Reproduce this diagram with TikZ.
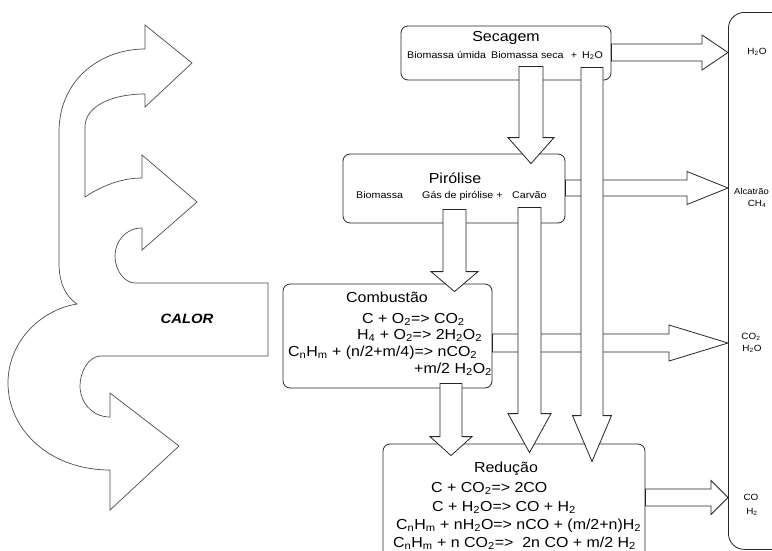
\documentclass[tikz,border=0pt]{standalone}
\usepackage{fontspec}
\setmainfont{Liberation Sans}[FakeStretch=1.1]
\usetikzlibrary{calc}

% block arrow pointing down: from, to, x, top inset, tip inset, head length, shaft, head
\newcommand{\downblock}[8]{%
  \draw[blk] let \p1=(#1.south), \p2=(#2.north), \p3=(#3,0) in
    (\x3-#7pt,\y1+#4pt) -- (\x3-#7pt,\y2-#5pt+#6pt) -- (\x3-#8pt,\y2-#5pt+#6pt)
    -- (\x3,\y2-#5pt) -- (\x3+#8pt,\y2-#5pt+#6pt) -- (\x3+#7pt,\y2-#5pt+#6pt)
    -- (\x3+#7pt,\y1+#4pt) -- cycle;}
% block arrow pointing right: from, to, y, head length, shaft, head
\newcommand{\rightblock}[6]{%
  \draw[blk] let \p1=(#1.east), \p2=(#2.west), \p3=(0,#3) in
    (\x1,\y3+#5pt) -- (\x2-#4pt,\y3+#5pt) -- (\x2-#4pt,\y3+#6pt) -- (\x2,\y3)
    -- (\x2-#4pt,\y3-#6pt) -- (\x2-#4pt,\y3-#5pt) -- (\x1,\y3-#5pt) -- cycle;}

\begin{document}
\begin{tikzpicture}[x=1pt, y=-1pt,
    box/.style={draw=black!85, line width=0.8pt, rounded corners=7pt, fill=white, inner sep=0pt},
    blk/.style={draw=black!85, line width=0.8pt, fill=white},
    heat/.style={draw=black!70, line width=0.7pt},
    ttl/.style={font=\fontsize{14.5}{17}\selectfont, inner sep=0pt, anchor=base},
    eqn/.style={font=\fontsize{14.5}{17}\selectfont, inner sep=0pt, anchor=base west},
    sml/.style={font=\fontsize{9.7}{11}\selectfont, inner sep=0pt, anchor=base west},
    prd/.style={font=\fontsize{9}{10}\selectfont, inner sep=0pt, anchor=base}]
  \useasboundingbox (0,0) rectangle (772,550);
  \clip (0,0) rectangle (772,550);
  \fill[white] (0,0) rectangle (772,550);

  % heat
  \draw[heat] (145,49) -- (145,25) -- (192,63) -- (145,107) -- (145,94)
    .. controls (112,94) and (85,106) .. (85,127)
    -- (85,197)
    .. controls (100,187) and (120,178) .. (142,178)
    -- (142,155) -- (197,202) -- (142,250) -- (142,228)
    .. controls (125,228) and (115,242) .. (115,256)
    .. controls (115,271) and (125,283) .. (135,283)
    -- (268,283) -- (268,356) -- (100,356)
    .. controls (88,357) and (80,372) .. (80,386)
    .. controls (80,402) and (92,417) .. (110,417)
    -- (110,393) -- (179,446) -- (110,510) -- (110,470)
    .. controls (50,470) and (8,430) .. (8,383)
    .. controls (8,342) and (40,310) .. (77,304)
    .. controls (65,296) and (59,282) .. (59,263)
    -- (59,132)
    .. controls (59,80) and (100,49) .. (145,49) -- cycle;
  \node[font=\fontsize{13.5}{16}\selectfont\bfseries\itshape] (calor) at (187,319) {CALOR};

  % stages
  \node[box, minimum width=210, minimum height=54] (sec) at (506,53) {};
  \node[box, minimum width=222, minimum height=69] (pyr) at (454,188.5) {};
  \node[box, minimum width=209, minimum height=104] (comb) at (387.5,336) {};
  \node[box, minimum width=262, minimum height=126] (red) at (514,507) {};
  \node[draw=black!85, line width=0.8pt, rounded corners=16pt, minimum width=100,
    minimum height=537, anchor=north west] (out) at (728,12) {};

  % products
  \rightblock{sec}{out}{52.5}{26}{8.5}{17.5}
  \rightblock{pyr}{out}{188}{41}{8}{16.5}
  \rightblock{comb}{out}{343}{59}{9}{18}
  \rightblock{red}{out}{497.5}{17}{8.5}{17}

  % flows between stages
  \downblock{sec}{pyr}{531}{14}{10}{26}{12}{23}
  \downblock{pyr}{comb}{454.5}{14}{8}{20}{11.5}{23.5}
  \downblock{comb}{red}{451}{5}{12}{19}{11}{21}
  \downblock{pyr}{red}{529.5}{16}{9}{39}{11.5}{21.5}
  \downblock{sec}{red}{592}{13}{18}{46}{11}{19.5}

  % texts
  \node[ttl] (tsec) at (506,41) {Secagem};
  \node[sml] (bu) at (407,58) {Biomassa úmida};
  \node[sml] (bs) at (491,58) {Biomassa seca};
  \node[sml, anchor=base] (p1) at (574,58) {+};
  \node[sml] (w1) at (582,58) {H\textsubscript{2}O};

  \node[ttl] (tpyr) at (455,183) {Pirólise};
  \node[sml] (bm) at (356,198) {Biomassa};
  \node[sml] (gp) at (422,198) {Gás de pirólise +};
  \node[sml] (cv) at (512,198) {Carvão};

  \node[ttl] (tcomb) at (387,302) {Combustão};
  \node[eqn] (c1) at (362,323) {C + O\textsubscript{2}=> CO\textsubscript{2}};
  \node[eqn] (c2) at (357,339) {H\textsubscript{4} + O\textsubscript{2}=> 2H\textsubscript{2}O\textsubscript{2}};
  \node[eqn] (c3) at (288,356) {C\textsubscript{n}H\textsubscript{m} + (n/2+m/4)=> nCO\textsubscript{2}};
  \node[eqn] (c4) at (414,373) {+m/2 H\textsubscript{2}O\textsubscript{2}};

  \node[ttl] (tred) at (506,472) {Redução};
  \node[eqn] (r1) at (431,492) {C + CO\textsubscript{2}=> 2CO};
  \node[eqn] (r2) at (432,511) {C + H\textsubscript{2}O=> CO + H\textsubscript{2}};
  \node[eqn] (r3) at (396,529) {C\textsubscript{n}H\textsubscript{m} + nH\textsubscript{2}O=> nCO + (m/2+n)H\textsubscript{2}};
  \node[eqn] (r4) at (393,547) {C\textsubscript{n}H\textsubscript{m} + n CO\textsubscript{2}=>\ \ 2n CO + m/2 H\textsubscript{2}};

  \node[prd] (o1) at (757,54) {H\textsubscript{2}O};
  \node[prd, anchor=base west, font=\fontsize{8.6}{10}\selectfont] (o2) at (734,194) {Alcatrão};
  \node[prd] (o3) at (757,206) {CH\textsubscript{4}};
  \node[prd] (o4) at (751,339) {CO\textsubscript{2}};
  \node[prd] (o5) at (752,351) {H\textsubscript{2}O};
  \node[prd] (o6) at (751,500) {CO};
  \node[prd] (o7) at (752,514) {H\textsubscript{2}};
\end{tikzpicture}
\end{document}
